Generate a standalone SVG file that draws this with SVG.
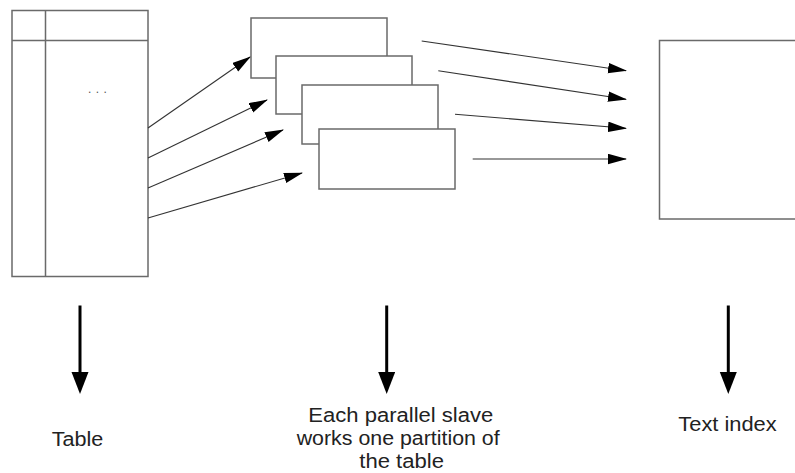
<svg xmlns="http://www.w3.org/2000/svg" width="795" height="473" viewBox="0 0 795 473">
  <style>
    .box { fill: #ffffff; stroke: #6a6a6a; stroke-width: 1.5; }
    .thin { fill: none; stroke: #333333; stroke-width: 1.1; }
    .thick { fill: none; stroke: #000000; stroke-width: 3; }
    .lbl { font-family: "Liberation Sans", Arial, sans-serif; font-size: 20px; fill: #222222; }
  </style>
  <defs>
    <marker id="ah" markerUnits="userSpaceOnUse" markerWidth="20" markerHeight="12" refX="18" refY="5.25" orient="auto">
      <path d="M0,0 L19,5.25 L0,10.5 z" fill="#000"/>
    </marker>
    <marker id="bh" markerUnits="userSpaceOnUse" markerWidth="24" markerHeight="18" refX="12" refY="8.5" orient="auto">
      <path d="M0,0 L22,8.5 L0,17 z" fill="#000"/>
    </marker>
  </defs>

  <g id="table">
    <rect class="box" x="12" y="10.5" width="136" height="266"/>
    <line class="box" x1="45.5" y1="10.5" x2="45.5" y2="276.5"/>
    <line class="box" x1="12" y1="40.5" x2="148" y2="40.5"/>
    <text x="88" y="93" font-family="Liberation Sans, Arial, sans-serif" font-size="12" fill="#555" letter-spacing="4.4">...</text>
  </g>

  <g id="partitions">
    <rect class="box" x="251" y="18" width="136" height="60"/>
    <rect class="box" x="276" y="56" width="136" height="58"/>
    <rect class="box" x="302" y="85" width="136" height="59"/>
    <rect class="box" x="319" y="129" width="136" height="60"/>
  </g>

  <g id="text-index">
    <rect class="box" x="659.5" y="40.5" width="160" height="178.5"/>
  </g>

  <g id="connectors">
    <line class="thin" x1="148" y1="128" x2="250" y2="57" marker-end="url(#ah)"/>
    <line class="thin" x1="148" y1="158" x2="267" y2="100" marker-end="url(#ah)"/>
    <line class="thin" x1="148" y1="188" x2="283" y2="130" marker-end="url(#ah)"/>
    <line class="thin" x1="148" y1="218" x2="302" y2="173" marker-end="url(#ah)"/>
    <line class="thin" x1="421.7" y1="41" x2="626" y2="70.7" marker-end="url(#ah)"/>
    <line class="thin" x1="438.3" y1="70.7" x2="626" y2="99.3" marker-end="url(#ah)"/>
    <line class="thin" x1="455" y1="114.3" x2="626" y2="128.3" marker-end="url(#ah)"/>
    <line class="thin" x1="472.7" y1="159" x2="626" y2="159" marker-end="url(#ah)"/>
    <line class="thick" x1="80" y1="305.5" x2="80" y2="384" marker-end="url(#bh)"/>
    <line class="thick" x1="386.7" y1="305.5" x2="386.7" y2="384" marker-end="url(#bh)"/>
    <line class="thick" x1="728.3" y1="305.5" x2="728.3" y2="384" marker-end="url(#bh)"/>
  </g>

  <g id="labels">
    <text class="lbl" x="51.7" y="446" textLength="51.6" lengthAdjust="spacingAndGlyphs">Table</text>
    <text class="lbl" x="308.3" y="421.7" textLength="185" lengthAdjust="spacingAndGlyphs">Each parallel slave</text>
    <text class="lbl" x="296.7" y="445" textLength="203" lengthAdjust="spacingAndGlyphs">works one partition of</text>
    <text class="lbl" x="359.3" y="468" textLength="84.7" lengthAdjust="spacingAndGlyphs">the table</text>
    <text class="lbl" x="678.3" y="431" textLength="98.4" lengthAdjust="spacingAndGlyphs">Text index</text>
  </g>
</svg>
